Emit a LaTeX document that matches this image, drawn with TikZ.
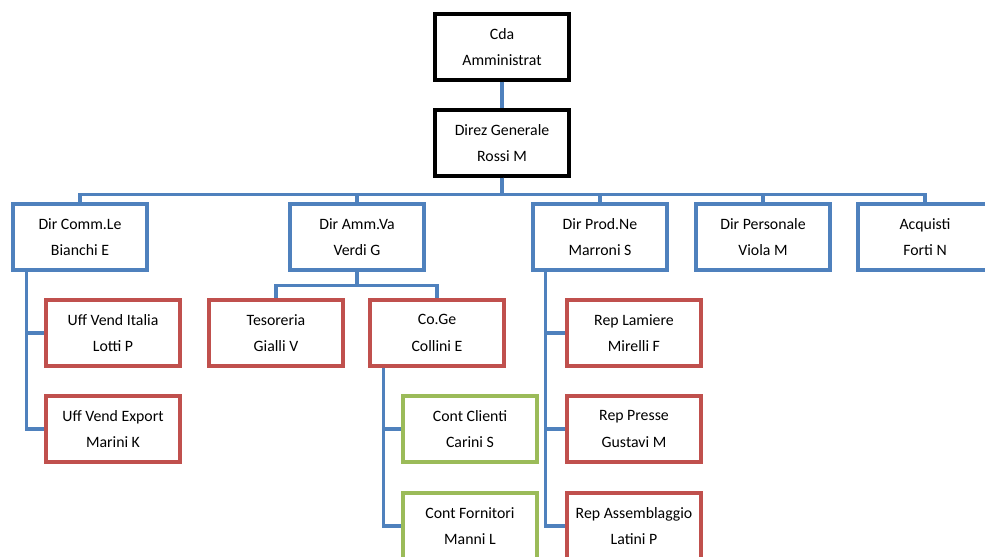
\documentclass[tikz,border=0pt]{standalone}
\usepackage{fontspec}
\setmainfont{Carlito}
\definecolor{orgblue}{RGB}{79,129,189}
\definecolor{orgred}{RGB}{192,80,77}
\definecolor{orggreen}{RGB}{155,187,89}
\tikzset{
  unit/.style={draw,line width=1.9pt,fill=white,minimum width=2.68cm,minimum height=1.32cm,
    align=center,font=\fontsize{9}{15}\selectfont},
  topunit/.style={unit,draw=black},
  mainunit/.style={unit,draw=orgblue},
  subunit/.style={unit,draw=orgred},
  contunit/.style={unit,draw=orggreen},
  link/.style={draw=orgblue,line width=2pt}
}
\begin{document}
\begin{tikzpicture}[x=0.02cm,y=-0.02cm]
\useasboundingbox (0,0) rectangle (985,557);
\node[topunit] (cda) at (502,47) {Cda\\Amministrat};
\node[topunit] (direz) at (502,143) {Direz Generale\\Rossi M};

\node[mainunit] (comm) at (80,237) {Dir Comm.Le\\Bianchi E};
\node[mainunit] (amm) at (357,237) {Dir Amm.Va\\Verdi G};
\node[mainunit] (prod) at (600,237) {Dir Prod.Ne\\Marroni S};
\node[mainunit] (pers) at (763,237) {Dir Personale\\Viola M};
\node[mainunit] (acq) at (925,237) {Acquisti\\Forti N};

\node[subunit] (uffit) at (113,333) {Uff Vend Italia\\Lotti P};
\node[subunit] (uffex) at (113,429) {Uff Vend Export\\Marini K};
\node[subunit] (tes) at (276,333) {Tesoreria\\Gialli V};
\node[subunit] (coge) at (437,333) {Co.Ge\\Collini E};
\node[contunit] (cli) at (470,429) {Cont Clienti\\Carini S};
\node[contunit] (forn) at (470,526) {Cont Fornitori\\Manni L};
\node[subunit] (lam) at (634,333) {Rep Lamiere\\Mirelli F};
\node[subunit] (presse) at (634,429) {Rep Presse\\Gustavi M};
\node[subunit] (ass) at (634,526) {Rep Assemblaggio\\Latini P};

\draw[link] (cda) -- (direz);
\foreach \n in {comm,amm,prod,pers,acq}
  \draw[link] (direz.south) -- ++(0,17) -| (\n.north);
\foreach \n in {tes,coge}
  \draw[link] (amm.south) -- ++(0,14) -| (\n.north);
\foreach \n in {uffit,uffex}
  \draw[link] ([xshift=0.3cm]comm.south west) |- (\n.west);
\foreach \n in {cli,forn}
  \draw[link] ([xshift=0.3cm]coge.south west) |- (\n.west);
\foreach \n in {lam,presse,ass}
  \draw[link] ([xshift=0.28cm]prod.south west) |- (\n.west);
\end{tikzpicture}
\end{document}
